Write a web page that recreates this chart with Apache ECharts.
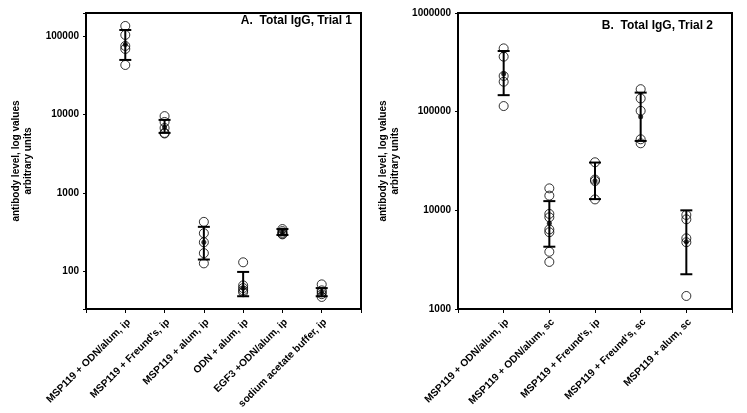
<!DOCTYPE html>
<html>
<head>
<meta charset="utf-8">
<script src="https://cdn.jsdelivr.net/npm/echarts@6/dist/echarts.min.js"></script>
<style>
  html, body { margin: 0; padding: 0; background: #fff; }
  #chart { width: 747px; height: 413px; }
</style>
</head>
<body>
<div id="chart"></div>
<script>
// panel A: Total IgG, Trial 1
var catsA = ['MSP119 + ODN/alum, ip', "MSP119 + Freund's, ip", 'MSP119 + alum, ip',
  'ODN + alum, ip', 'EGF3 +ODN/alum, ip', 'sodium acetate buffer, ip']
var pointsA = [
  [134000, 103000, 74500, 68200, 42600],
  [9500, 8000, 6700, 5800, 5700],
  [426, 305, 234, 170, 126],
  [130, 66, 61, 57, 54],
  [345, 325, 310, 300, 295],
  [68, 57, 54, 51, 47]
]
var meanA = [78000, 6900, 234, 61, 315, 54]
var lowA = [49400, 5800, 141, 48, 290, 48]
var highA = [119000, 8500, 368, 98, 345, 61]

// panel B: Total IgG, Trial 2
var catsB = ['MSP119 + ODN/alum, ip', 'MSP119 + ODN/alum, sc', "MSP119 + Freund's, ip",
  "MSP119 + Freund's, sc", 'MSP119 + alum, sc']
var pointsB = [
  [438000, 361000, 230000, 201000, 114000],
  [16700, 14100, 9200, 8500, 6400, 6000, 3800, 3000],
  [30700, 20500, 19800, 12900],
  [169000, 136000, 102000, 52500, 47800],
  [8970, 8110, 5210, 4750, 1355]
]
var meanB = [242000, 7400, 20000, 89000, 4800]
var lowB = [147000, 4280, 13000, 50500, 2250]
var highB = [412000, 12400, 30500, 156000, 10000]

var yTicksA = [100, 1000, 10000, 100000]
var yTicksB = [1000, 10000, 100000, 1000000]

var font = 'Liberation Sans, Arial, sans-serif'
var myChart = echarts.init(document.getElementById('chart'))

// padded categories so groups sit on ticks 1..n
function padCats (cats) {
  return [''].concat(cats).concat([''])
}

function scatterData (points) {
  var out = []
  points.forEach(function (arr, i) {
    arr.forEach(function (v) { out.push([i + 1, v]) })
  })
  return out
}

function pairData (vals) {
  return vals.map(function (v, i) { return [i + 1, v] })
}

function errData (lo, hi) {
  return lo.map(function (v, i) { return [i + 1, v, hi[i]] })
}

function renderErr (params, api) {
  var p1 = api.coord([api.value(0), api.value(1)])
  var p2 = api.coord([api.value(0), api.value(2)])
  var w = 6
  var st = { stroke: '#000', lineWidth: 2 }
  return {
    type: 'group',
    children: [
      { type: 'line', shape: { x1: p1[0], y1: p1[1], x2: p2[0], y2: p2[1] }, style: st },
      { type: 'line', shape: { x1: p1[0] - w, y1: p1[1], x2: p1[0] + w, y2: p1[1] }, style: st },
      { type: 'line', shape: { x1: p2[0] - w, y1: p2[1], x2: p2[0] + w, y2: p2[1] }, style: st }
    ]
  }
}

function makeY (idx, min, max, ticks, nameGap) {
  return {
    type: 'log',
    logBase: 10,
    gridIndex: idx,
    min: min,
    max: max,
    splitLine: { show: false },
    axisLine: { show: true, lineStyle: { color: '#000', width: 2 } },
    axisTick: { show: true, length: 3, lineStyle: { color: '#000' } },
    axisLabel: {
      color: '#000', fontSize: 10, fontWeight: 'bold', fontFamily: font, margin: 7,
      formatter: function (v) {
        for (var i = 0; i < ticks.length; i++) {
          if (Math.abs(v - ticks[i]) / ticks[i] < 1e-6) return String(ticks[i])
        }
        return ''
      }
    },
    name: 'antibody level, log values\narbitrary units',
    nameLocation: 'middle',
    nameGap: nameGap,
    nameTextStyle: { color: '#000', fontSize: 10, fontWeight: 'bold', fontFamily: font, lineHeight: 12 }
  }
}

function makeX (idx, cats) {
  return {
    type: 'category',
    gridIndex: idx,
    data: padCats(cats),
    boundaryGap: false,
    splitLine: { show: false },
    axisLine: { show: true, lineStyle: { color: '#000', width: 2 } },
    axisTick: { show: true, length: 4, interval: 0, lineStyle: { color: '#000' } },
    axisLabel: {
      interval: 0, rotate: 45, color: '#000', fontSize: 10.2, fontWeight: 'bold',
      fontFamily: font, margin: 8, verticalAlign: 'top'
    }
  }
}

function groupSeries (idx, points, mean, lo, hi) {
  return [
    {
      type: 'custom',
      xAxisIndex: idx,
      yAxisIndex: idx,
      renderItem: renderErr,
      encode: { x: 0, y: [1, 2] },
      data: errData(lo, hi),
      z: 2
    },
    {
      type: 'scatter',
      xAxisIndex: idx,
      yAxisIndex: idx,
      symbol: 'circle',
      symbolSize: 9,
      itemStyle: { color: 'rgba(0,0,0,0)', borderColor: '#000', borderWidth: 1 },
      data: scatterData(points),
      z: 3
    },
    {
      type: 'scatter',
      xAxisIndex: idx,
      yAxisIndex: idx,
      symbol: 'circle',
      symbolSize: 5,
      itemStyle: { color: '#000' },
      data: pairData(mean),
      z: 4
    }
  ]
}

myChart.setOption({
  animation: false,
  backgroundColor: '#fff',
  title: [
    {
      text: 'A.  Total IgG, Trial 1',
      right: 395,
      top: 15,
      padding: 0,
      textStyle: { color: '#000', fontSize: 12, fontWeight: 'bold', fontFamily: font }
    },
    {
      text: 'B.  Total IgG, Trial 2',
      right: 34,
      top: 20,
      padding: 0,
      textStyle: { color: '#000', fontSize: 12, fontWeight: 'bold', fontFamily: font }
    }
  ],
  grid: [
    { left: 86, top: 13, width: 275, height: 296, show: true, borderColor: '#000', borderWidth: 2, outerBoundsMode: 'none' },
    { left: 458, top: 13, width: 274, height: 296, show: true, borderColor: '#000', borderWidth: 2, outerBoundsMode: 'none' }
  ],
  xAxis: [makeX(0, catsA), makeX(1, catsB)],
  yAxis: [makeY(0, 33, 196000, yTicksA, 52), makeY(1, 1000, 1000000, yTicksB, 57)],
  series: groupSeries(0, pointsA, meanA, lowA, highA)
    .concat(groupSeries(1, pointsB, meanB, lowB, highB))
})
</script>
</body>
</html>
